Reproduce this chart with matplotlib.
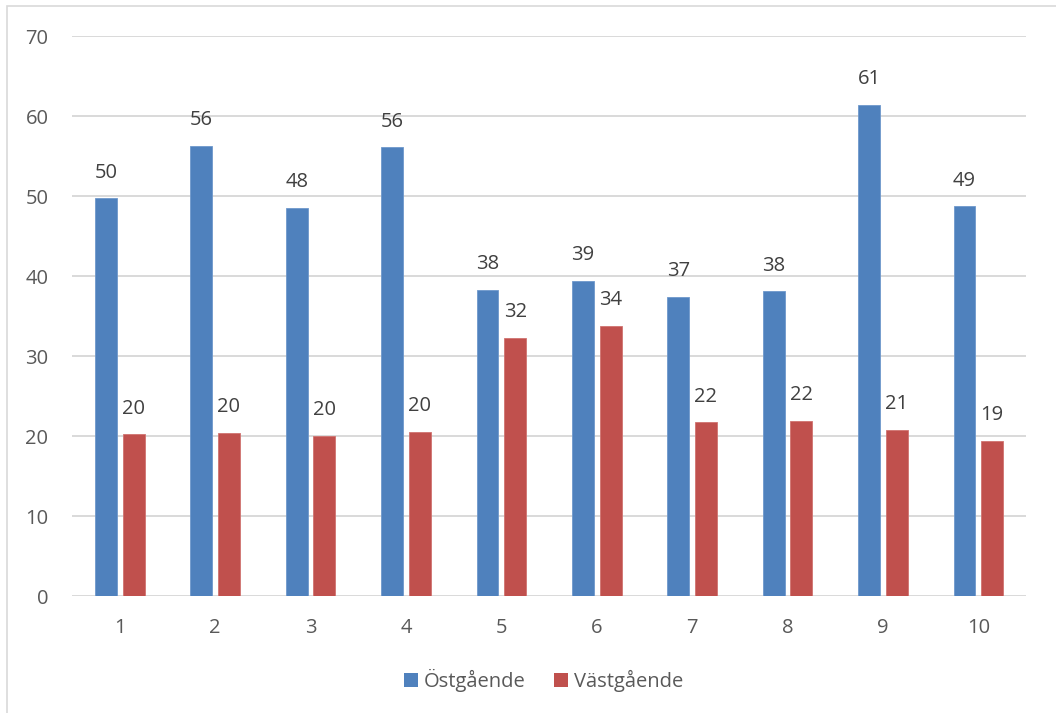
import matplotlib
matplotlib.use("Agg")
import matplotlib.pyplot as plt
from matplotlib.patches import Rectangle, Patch
import numpy as np

categories = ["1", "2", "3", "4", "5", "6", "7", "8", "9", "10"]
ostgaende = [49.7, 56.3, 48.5, 56.1, 38.3, 39.4, 37.4, 38.1, 61.4, 48.7]
vastgaende = [20.2, 20.4, 20.0, 20.5, 32.3, 33.8, 21.7, 21.9, 20.8, 19.4]
series_names = ["Östgående", "Västgående"]

blue = "#4F81BD"
red = "#C0504D"
txt = "#404040"
tick_c = "#595959"

plt.rcParams['font.family'] = ['Open Sans', 'DejaVu Sans']

fig = plt.figure(figsize=(10.56, 7.13), dpi=100)
ax = fig.add_axes([0.0682, 0.164, 0.9034, 0.7855])

x = np.arange(len(categories))
w = 0.23
off = 0.145
b1 = ax.bar(x - off, ostgaende, w, color=blue, edgecolor="#6E98CC", linewidth=0.6, zorder=3)
b2 = ax.bar(x + off, vastgaende, w, color=red, edgecolor="#D07370", linewidth=0.6, zorder=3)

for bars, vals in ((b1, ostgaende), (b2, vastgaende)):
    for r, v in zip(bars, vals):
        ax.annotate(f"{round(v):d}", (r.get_x() + r.get_width() / 2, v),
                    xytext=(0, 18.5), textcoords="offset points",
                    ha="center", va="center", fontsize=14.5, color=txt)

ax.set_xlim(-0.5, len(categories) - 0.5)
ax.set_ylim(0, 70)
ax.set_yticks(range(0, 71, 10))
ax.set_xticks(x)
ax.set_xticklabels(categories)
ax.tick_params(axis='both', length=0, labelsize=14.5, labelcolor=tick_c)
ax.tick_params(axis='y', pad=17)
ax.tick_params(axis='x', pad=16)
ax.yaxis.grid(True, color="#D9D9D9", linewidth=1.4, zorder=0)
ax.set_axisbelow(True)
for s in ax.spines.values():
    s.set_visible(False)

handles = [Patch(facecolor=blue, edgecolor="none"), Patch(facecolor=red, edgecolor="none")]
fig.legend(handles, series_names, loc="center", bbox_to_anchor=(0.515, 0.046),
           ncol=2, frameon=False, fontsize=14.5, labelcolor=tick_c,
           handlelength=0.7, handleheight=0.7, handletextpad=0.3, columnspacing=1.4)

fig.patches.append(Rectangle((7 / 1056, -0.05), 1.1, 1 - 6 / 713 + 0.05,
                             transform=fig.transFigure, fill=False,
                             edgecolor="#D9D9D9", linewidth=1.2))

fig.savefig("out.png", dpi=100)
